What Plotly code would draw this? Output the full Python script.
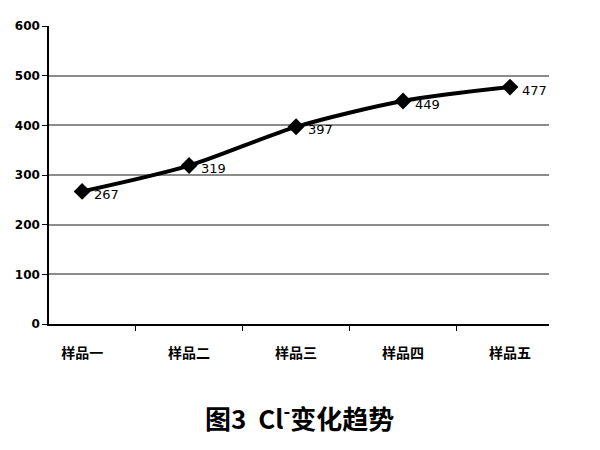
import plotly.graph_objects as go

categories = ["样品一", "样品二", "样品三", "样品四", "样品五"]
values = [267, 319, 397, 449, 477]
y_ticks = [0, 100, 200, 300, 400, 500, 600]

fig = go.Figure()
fig.add_trace(go.Scatter(
    x=categories, y=values,
    mode="lines+markers",
    line=dict(color="black", width=4, shape="spline", smoothing=0.8),
    marker=dict(symbol="diamond", size=13, color="black"),
    cliponaxis=False,
    showlegend=False,
))

annotations = [dict(
    x=c, y=v, xref="x", yref="y", text=str(v), showarrow=False,
    xanchor="left", yanchor="middle", xshift=10, yshift=-3,
    font=dict(family="DejaVu Sans, Arial", size=13, color="black"),
) for c, v in zip(categories, values)]

annotations.append(dict(
    text="<b>图3  Cl<sup>-</sup>变化趋势</b>",
    x=0.5, y=-0.31, xref="paper", yref="paper",
    xanchor="center", yanchor="middle", showarrow=False,
    font=dict(family="Noto Sans CJK SC", size=26, color="black"),
))

fig.update_layout(
    width=592, height=442,
    margin=dict(l=41, r=51, t=18, b=126),
    paper_bgcolor="white", plot_bgcolor="white",
    font=dict(family="Noto Sans CJK SC", color="black"),
    annotations=annotations,
)
fig.update_xaxes(
    type="category", tickson="boundaries", automargin=False,
    showline=True, linecolor="black", linewidth=1.5,
    ticks="outside", ticklen=5, tickcolor="black",
    showgrid=False, ticklabelstandoff=15,
    tickfont=dict(family="Noto Sans CJK SC", size=14, color="black", weight="bold"),
)
fig.update_yaxes(
    range=[0, 600], tickvals=y_ticks, automargin=False,
    showline=True, linecolor="black", linewidth=1.5,
    ticks="outside", ticklen=5, tickcolor="black",
    showgrid=True, gridcolor="#8c8c8c", gridwidth=1.5,
    zeroline=False,
    tickfont=dict(family="DejaVu Sans", size=12, color="black", weight="bold"),
)

fig.write_html("out.html")
